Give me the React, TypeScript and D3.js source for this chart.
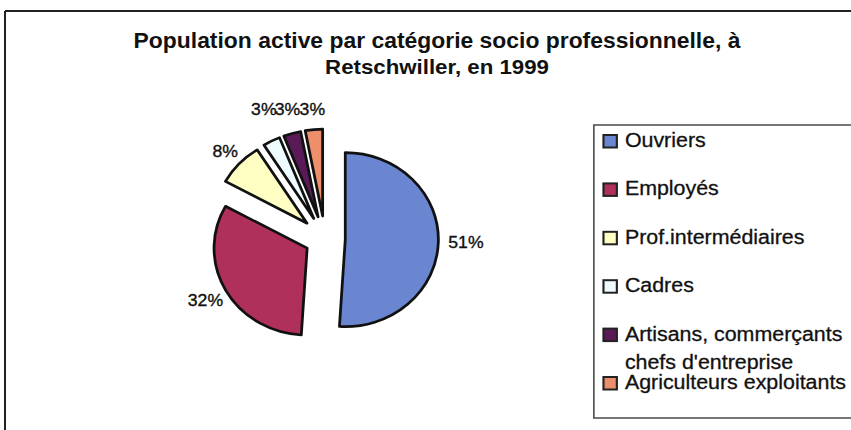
import React from "react";
import * as d3 from "d3";

// ---- data ----
const categories = [
  "Ouvriers",
  "Employés",
  "Prof.intermédiaires",
  "Cadres",
  "Artisans, commerçants\nchefs d'entreprise",
  "Agriculteurs exploitants",
];
const shares = [51, 32, 8, 3, 3, 3];
const colors = ["#6b86d0", "#b0305c", "#ffffc4", "#eefcff", "#5a1a58", "#ee8f6c"];
const explode = [19, 19, 23, 23, 23, 23];
const titleLines = [
  "Population active par catégorie socio professionnelle, à",
  "Retschwiller, en 1999",
];

const W = 851;
const H = 430;
const SX = 1.07; // horizontal stretch of the whole picture

export default function App() {
  const cx = 303.7;
  const cy = 239;
  const r = 87;
  const pie = d3
    .pie<number>()
    .sort(null)
    .value((d) => d)
    .startAngle(0)
    .endAngle(2 * Math.PI);
  const arcs = pie(shares);
  const arc = d3.arc<d3.PieArcDatum<number>>().innerRadius(0).outerRadius(r);

  const fs = 16.5;
  const gap = 9;
  const labels = arcs.map((a, i) => {
    const mid = (a.startAngle + a.endAngle) / 2;
    const dx = Math.sin(mid);
    const dy = -Math.cos(mid);
    const text = `${shares[i]}%`;
    const w = text.length * 0.68 * fs;
    const h = 12;
    const half = Math.min(
      Math.abs(dx) > 1e-6 ? w / 2 / Math.abs(dx) : Infinity,
      Math.abs(dy) > 1e-6 ? h / 2 / Math.abs(dy) : Infinity
    );
    const d = explode[i] + r + gap + half;
    return { x: cx + dx * d, y: cy + dy * d, text, dy };
  });
  // labels crowded at the top share one row (the highest of them)
  const top = labels.filter((l) => l.dy < -0.85);
  if (top.length > 1) {
    const minY = d3.min(top, (l) => l.y) as number;
    top.forEach((l) => (l.y = minY - 5));
  }

  const font = "Arial, 'Liberation Sans', sans-serif";
  const legendX = 555;
  const legendTop = 125;
  const legendBottom = 418;
  const rowY = d3
    .scalePoint<number>()
    .domain(d3.range(categories.length))
    .range([147, 389]);

  return (
    <svg
      width={W}
      height={H}
      style={{ position: "fixed", left: 0, top: 0, background: "#fff" }}
    >
      <rect x={0} y={0} width={W} height={H} fill="#fff" />
      {/* chart frame */}
      <line x1={5} y1={11} x2={W} y2={11} stroke="#222" strokeWidth={2} />
      <line x1={5} y1={11} x2={5} y2={H} stroke="#222" strokeWidth={2} />
      <g transform={`scale(${SX},1)`}>
        {titleLines.map((t, i) => (
          <text
            key={i}
            x={408.4}
            y={48 + i * 26.5}
            textAnchor="middle"
            fontFamily={font}
            fontWeight="bold"
            fontSize={i === 0 ? 21.4 : 20.8}
            fill="#111"
          >
            {t}
          </text>
        ))}
        {arcs.map((a, i) => {
          const mid = (a.startAngle + a.endAngle) / 2;
          const ox = Math.sin(mid) * explode[i];
          const oy = -Math.cos(mid) * explode[i];
          return (
            <path
              key={i}
              d={arc(a) as string}
              transform={`translate(${cx + ox},${cy + oy})`}
              fill={colors[i]}
              stroke="#111"
              strokeWidth={2.6}
              strokeLinejoin="round"
            />
          );
        })}
        {labels.map((l, i) => (
          <text
            key={i}
            x={l.x}
            y={l.y}
            textAnchor="middle"
            dominantBaseline="central"
            fontFamily={font}
            fontSize={fs}
            fill="#111"
            stroke="#111"
            strokeWidth={0.35}
          >
            {l.text}
          </text>
        ))}
        {/* legend */}
        <rect
          x={legendX}
          y={legendTop}
          width={300}
          height={legendBottom - legendTop}
          fill="#fff"
          stroke="#555"
          strokeWidth={1.6}
        />
        {categories.map((c, i) => {
          const y = rowY(i) as number;
          const lines = c.split("\n");
          return (
            <g key={i}>
              <rect
                x={564}
                y={y - 12}
                width={12.5}
                height={12.5}
                fill={colors[i]}
                stroke="#222"
                strokeWidth={2}
              />
              <text
                x={584}
                y={y}
                fontFamily={font}
                fontSize={20}
                fill="#111"
                stroke="#111"
                strokeWidth={0.3}
              >
                {lines.map((ln, j) => (
                  <tspan key={j} x={584} dy={j === 0 ? 0 : 28}>
                    {ln}
                  </tspan>
                ))}
              </text>
            </g>
          );
        })}
      </g>
    </svg>
  );
}
